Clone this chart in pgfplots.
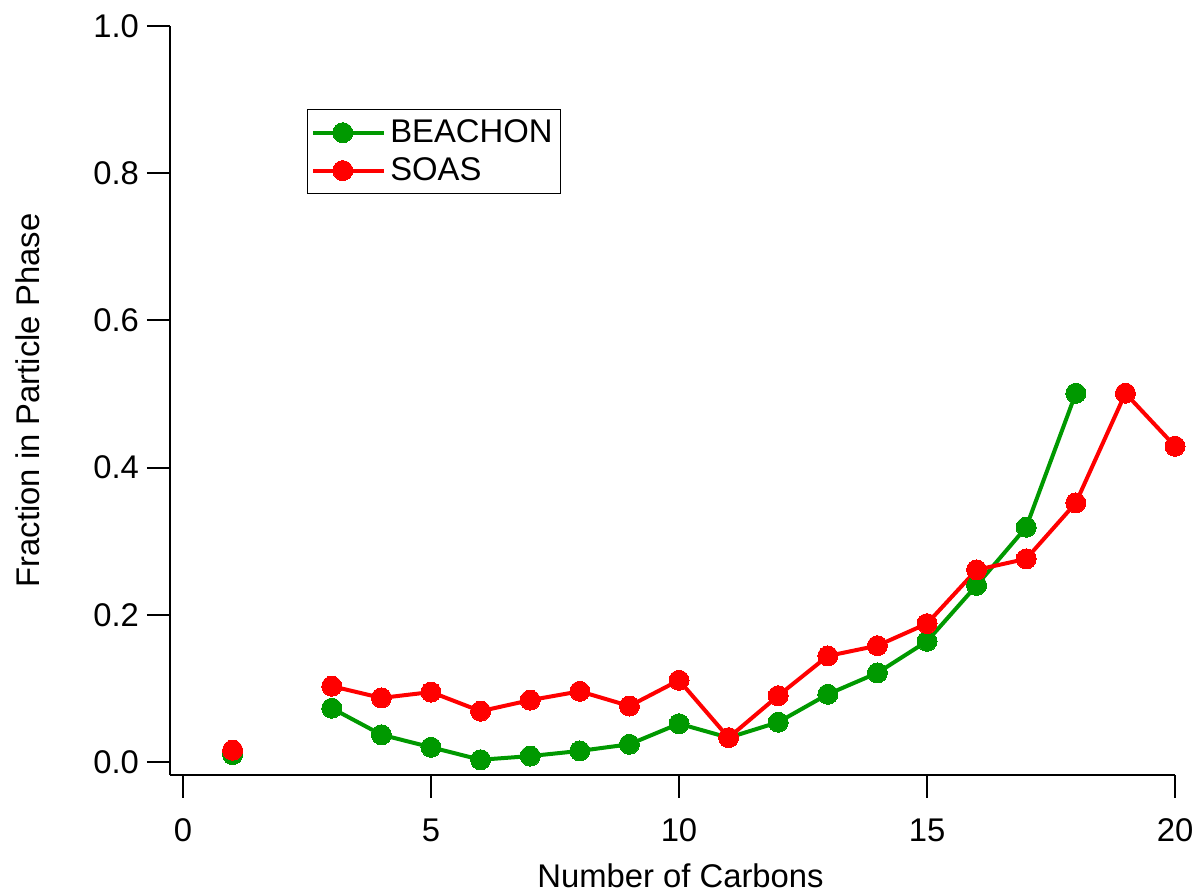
\documentclass[border=0pt]{standalone}
\usepackage{pgfplots}
\pgfplotsset{compat=1.18}
\usepackage{fontspec}
\setmainfont{Liberation Sans}
\definecolor{igreen}{RGB}{0,153,0}
\definecolor{ired}{RGB}{255,0,0}
\begin{document}
\begin{tikzpicture}
\begin{axis}[
  at={(0,0)}, anchor=south west,
  scale only axis,
  width=502.5pt, height=374.5pt,
  xmin=-0.262, xmax=20,
  ymin=-0.0177, ymax=1.0,
  axis lines=left,
  axis line style={-, line width=1pt},
  xtick={0,5,...,20},
  ytick={0,0.2,...,1.0},
  minor tick num=0,
  tick align=outside,
  major tick length=11.5pt,
  tick style={line width=1pt, black},
  yticklabel style={/pgf/number format/fixed,/pgf/number format/fixed zerofill,/pgf/number format/precision=1, xshift=-0.5pt},
  xticklabel style={yshift=-7pt},
  /pgf/number format/assume math mode=true,
  ticklabel style={font=\fontsize{16.4}{19}\selectfont},
  label style={font=\fontsize{16.4}{19}\selectfont},
  xlabel={Number of Carbons},
  ylabel={Fraction in Particle Phase},
  xlabel style={yshift=-4pt, xshift=4pt},
  ylabel style={yshift=20pt},
  unbounded coords=jump,
  clip=false,
  legend style={at={(0.136,0.889)}, anchor=north west, draw=black, line width=0.6pt,
    font=\fontsize{16.4}{19}\selectfont, inner xsep=2pt, inner ysep=3pt,
    row sep=2pt, cells={anchor=west}},
  legend image code/.code={\path (0pt,0pt) -- (35.5pt,0pt);\draw[line width=2pt, mark repeat=2,mark phase=2] plot coordinates {(0pt,0pt) (14.75pt,0pt) (29.5pt,0pt)};},
]
\addplot[color=igreen, line width=2pt, mark=*, mark size=5pt, mark options={solid, fill=igreen, draw=igreen, line width=0pt}] coordinates {
(1,0.010) (2,nan) (3,0.073) (4,0.037) (5,0.020) (6,0.003) (7,0.008) (8,0.015) (9,0.024) (10,0.052)
(11,0.033) (12,0.054) (13,0.092) (14,0.121) (15,0.164) (16,0.240) (17,0.319) (18,0.501)};
\addlegendentry{BEACHON}
\addplot[color=ired, line width=2pt, mark=*, mark size=5pt, mark options={solid, fill=ired, draw=ired, line width=0pt}] coordinates {
(1,0.016) (2,nan) (3,0.103) (4,0.087) (5,0.095) (6,0.069) (7,0.084) (8,0.096) (9,0.076) (10,0.111)
(11,0.033) (12,0.090) (13,0.144) (14,0.158) (15,0.188) (16,0.261) (17,0.276) (18,0.352) (19,0.501) (20,0.429)};
\addlegendentry{SOAS}
\end{axis}
\pgfresetboundingbox
\useasboundingbox (-85pt,-58.5pt) rectangle (514pt,387.5pt);
\end{tikzpicture}
\end{document}
